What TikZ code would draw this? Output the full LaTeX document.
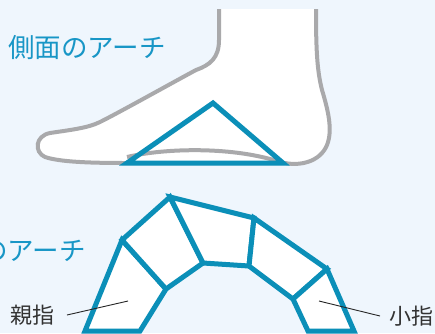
\documentclass[tikz,border=0pt]{standalone}
\usepackage{fontspec}
\setmainfont{Noto Sans CJK JP}
\usepackage{tikz}
\usetikzlibrary{positioning}

\definecolor{bgblue}{HTML}{EFF6FD}
\definecolor{archblue}{HTML}{0B8FB8}
\definecolor{titleblue}{HTML}{1896C6}
\definecolor{footgray}{HTML}{A9A9AB}
\definecolor{labelgray}{HTML}{333333}

\begin{document}
\begin{tikzpicture}[x=1pt, y=-1pt,
foot/.style={draw=footgray, line width=4pt},
arch/.style={draw=archblue, fill=white, line width=5pt, line join=miter},
title/.style={text=titleblue, inner sep=0pt, font=\fontsize{26.5}{26.5}\selectfont},
label/.style={text=labelgray, inner sep=0pt, font=\fontsize{22}{22}\selectfont},
leader/.style={draw=black!85, line width=0.9pt}
]
\useasboundingbox (0,0) rectangle (435,333);
\fill[bgblue] (0,0) rectangle (435,333);
\clip (0,0) rectangle (435,333);

%Foot
\fill[white] (219,9) -- (219,40) .. controls (219,58) and (210,65) .. (196,70)
  .. controls (170,84) and (120,112) .. (100,122) .. controls (88,128) and (70,130) .. (50,133)
  .. controls (35,136) and (34,152) .. (45,157) .. controls (60,162) and (90,163) .. (127,163)
  -- (285,163) .. controls (300,166) and (320,162) .. (327,145)
  .. controls (333,130) and (328,110) .. (322,90) .. controls (317,70) and (316,50) .. (316,9) -- cycle;
\draw[foot] (219,9) -- (219,40) .. controls (219,58) and (210,65) .. (196,70)
  .. controls (170,84) and (120,112) .. (100,122) .. controls (88,128) and (70,130) .. (50,133)
  .. controls (35,136) and (34,152) .. (45,157) .. controls (60,162) and (90,163) .. (127,163)
  -- (285,163) .. controls (300,166) and (320,162) .. (327,145)
  .. controls (333,130) and (328,110) .. (322,90) .. controls (317,70) and (316,50) .. (316,9);
\draw[foot] (127,157) .. controls (165,148) and (235,146) .. (283,163);

%Side arch
\coordinate (heel) at (283,163);
\coordinate (ball) at (127,163);
\coordinate (top)  at (213,103);
\draw[arch, fill=none] (ball) -- (top) -- (heel) -- cycle;

%Block corners
\coordinate (a1) at (85,331);
\coordinate (a2) at (122,240);
\coordinate (a3) at (170,197);
\coordinate (a4) at (254,218);
\coordinate (a5) at (327,269);
\coordinate (a6) at (354,331);
\coordinate (b1) at (140,331);
\coordinate (b2) at (166,289);
\coordinate (b3) at (203,263);
\coordinate (b4) at (249,266);
\coordinate (b5) at (293,299);
\coordinate (b6) at (308,331);

%Blocks
\draw[arch] (a1) -- (a2) -- (b2) -- (b1) -- cycle;
\draw[arch] (a2) -- (a3) -- (b3) -- (b2) -- cycle;
\draw[arch] (a3) -- (a4) -- (b4) -- (b3) -- cycle;
\draw[arch] (a4) -- (a5) -- (b5) -- (b4) -- cycle;
\draw[arch] (b5) -- (a5) -- (a6) -- (b6) -- cycle;

%Titles
\node[title, anchor=west] (side)  at (8,48)   {側面のアーチ};
\node[title, anchor=east] (cross) at (86,251) {のアーチ};

%Labels
\coordinate (oy) at (67,315);
\coordinate (ko) at (380,316);
\coordinate (oytip) at (128,301);
\coordinate (kotip) at (319,301);
\node[label, left=12pt of oy]  (oyayubi) {親指};
\node[label, right=9pt of ko]  (koyubi)  {小指};
\draw[leader] (oy) -- (oytip);
\draw[leader] (ko) -- (kotip);
\end{tikzpicture}
\end{document}
